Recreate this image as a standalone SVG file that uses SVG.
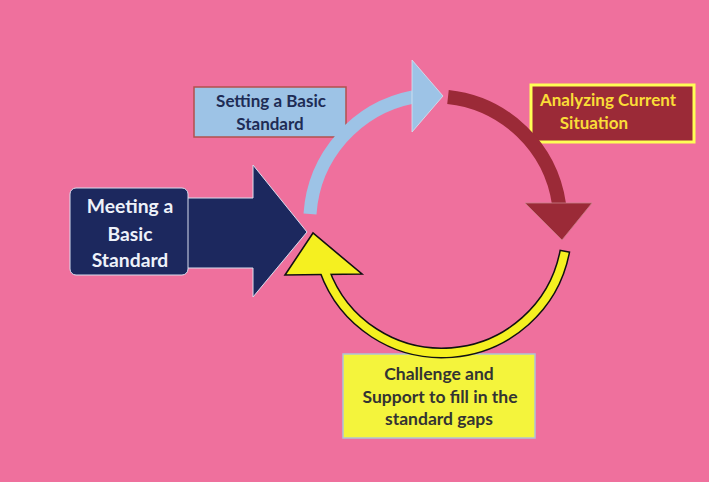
<svg xmlns="http://www.w3.org/2000/svg" width="709" height="482" viewBox="0 0 709 482">
<style>
.t{font-family:Lato,"Liberation Sans",Arial,sans-serif;font-weight:bold;text-anchor:middle}
</style>
<rect x="0" y="0" width="709" height="482" fill="#EF709D"/>
<g id="node-setting">
<rect x="194" y="87" width="152" height="50" fill="#9DC3E6" stroke="#B2504C" stroke-width="1.5"/>
<text class="t" x="271" y="107" font-size="17" fill="#1E2C55">Setting a Basic</text>
<text class="t" x="270" y="130" font-size="17" fill="#1E2C55">Standard</text>
</g>
<g id="node-analyzing">
<rect x="531" y="85" width="163" height="57" fill="#9B2A37" stroke="#FFFF55" stroke-width="3"/>
<text class="t" x="608" y="106" font-size="17" fill="#FADC38">Analyzing Current</text>
<text class="t" x="594" y="129" font-size="17" fill="#FADC38">Situation</text>
</g>
<g id="node-challenge">
<rect x="343" y="354" width="192" height="84" fill="#F4F43C" stroke="#AFC3D6" stroke-width="1.5"/>
<text class="t" x="439" y="380" font-size="17.5" fill="#333333">Challenge and</text>
<text class="t" x="440" y="403" font-size="17.5" fill="#333333">Support to fill in the</text>
<text class="t" x="439" y="425" font-size="17.5" fill="#333333">standard gaps</text>
</g>
<g id="node-meeting">
<polygon points="186,198 253,198 253,165 307,232 253,297 253,268 186,268" fill="#1C285E" stroke="#D8DDEE" stroke-width="1"/>
<rect x="70" y="188" width="118" height="87" rx="6" fill="#1C285E" stroke="#D8DDEE" stroke-width="1"/>
<text class="t" x="130" y="213" font-size="19.3" fill="#EEF2FA">Meeting a</text>
<text class="t" x="130" y="241" font-size="19.3" fill="#EEF2FA">Basic</text>
<text class="t" x="130" y="267" font-size="19.3" fill="#EEF2FA">Standard</text>
</g>
<g id="connectors">
<path d="M 310 214 A 128 128 0 0 1 413 97" fill="none" stroke="#9DC3E6" stroke-width="13"/>
<polygon points="412,60 443,96 412,132" fill="#9DC3E6" stroke="#D6E4F2" stroke-width="0.8"/>
<path d="M 448 97 A 126 126 0 0 1 559 204" fill="none" stroke="#9B2A37" stroke-width="14"/>
<polygon points="525,203 592,203 562,240" fill="#9B2A37" stroke="#C88088" stroke-width="0.8"/>
<path d="M 564.96 250.5 A 125 125 0 0 1 324.3 270" fill="none" stroke="#111111" stroke-width="11"/>
<polygon points="285,275 313,233 362,274" fill="#F5F020" stroke="#111111" stroke-width="1.6" stroke-linejoin="miter"/>
<path d="M 564.7 252 A 125 125 0 0 1 324.3 270" fill="none" stroke="#F5F020" stroke-width="8"/>
</g>
</svg>
